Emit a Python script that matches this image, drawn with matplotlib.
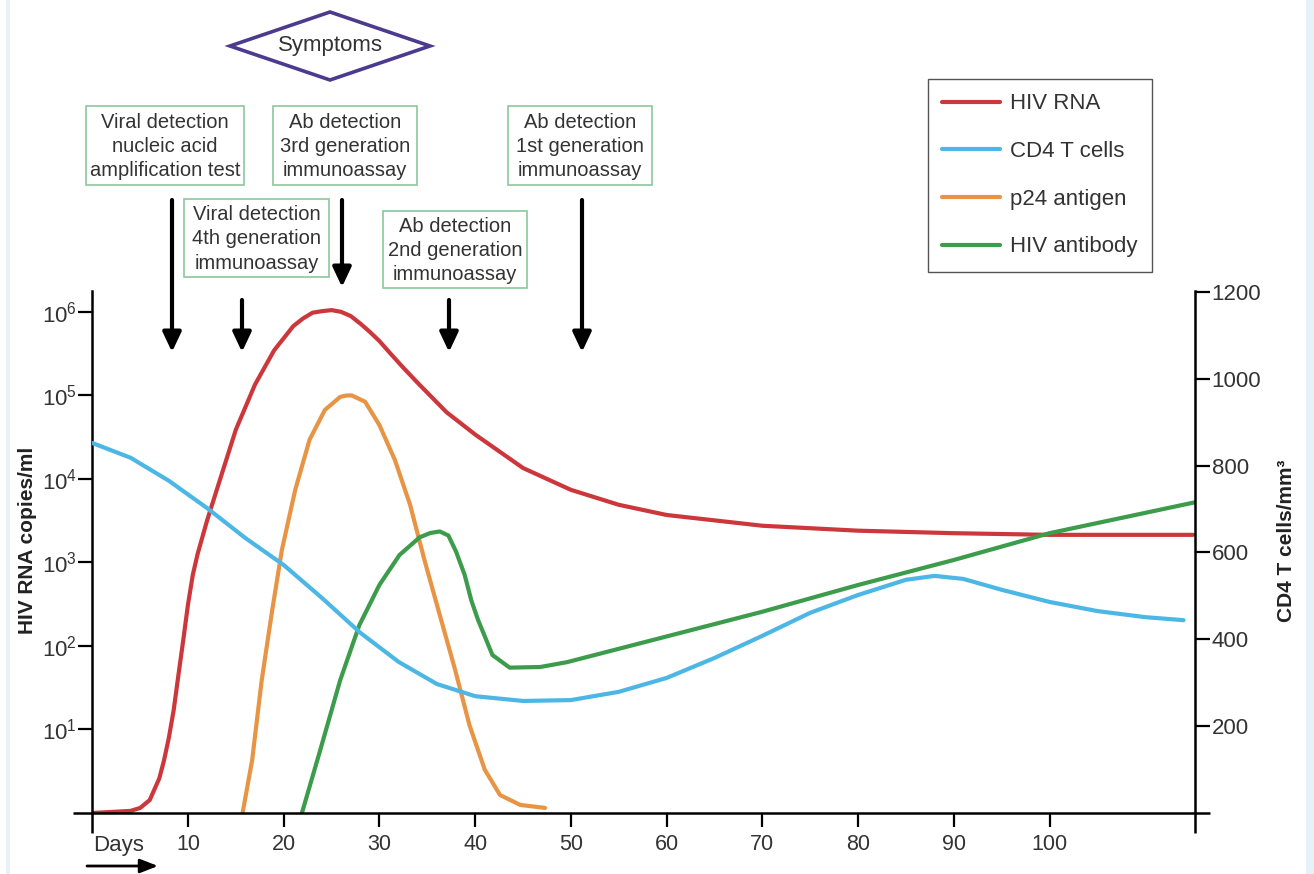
import matplotlib
matplotlib.use("Agg")
import matplotlib.pyplot as plt
from matplotlib.patches import Polygon, Rectangle
from matplotlib.ticker import FixedLocator, NullFormatter

plt.rcParams['font.family'] = ['Liberation Sans', 'DejaVu Sans']
plt.rcParams['mathtext.default'] = 'regular'

txt = '#333333'

# HIV RNA copies/ml (left log axis)
rna_days = [0, 4, 5, 6, 7, 7.5, 8, 8.5, 9, 9.5, 10, 10.5, 11, 12, 13.5, 15, 17, 19, 21,
            22, 23, 24, 25, 26, 27, 28, 29, 30, 31, 32.5, 34, 37, 40, 45, 50, 55, 60,
            70, 80, 90, 100, 115]
rna_copies = [1.0, 1.06, 1.15, 1.43, 2.6, 4.3, 8, 17, 45, 117, 316, 710, 1260, 3200,
              11200, 39000, 135000, 347000, 676000, 832000, 977000, 1020000, 1050000,
              1000000, 891000, 724000, 575000, 447000, 331000, 214000, 141000, 63000,
              34000, 13500, 7400, 4900, 3700, 2750, 2400, 2240, 2140, 2140]

# CD4 T cells/mm3 (right linear axis)
cd4_days = [0, 4, 8, 12, 16, 20, 24, 28, 32, 36, 40, 45, 50, 55, 60, 65, 70, 75, 80,
            85, 88, 91, 95, 100, 105, 110, 114]
cd4_cells = [852, 818, 765, 702, 633, 571, 495, 415, 348, 297, 269, 258, 260, 279, 311,
             357, 408, 461, 502, 537, 546, 539, 514, 486, 465, 451, 444]

# p24 antigen (relative level, left axis)
p24_days = [15.7, 16.7, 17.7, 18.8, 19.8, 21.2, 22.7, 24.3, 25.9, 26.5, 27.1, 28.5, 30.0,
            31.6, 33.2, 34.7, 36.3, 37.9, 39.4, 41.0, 42.6, 44.7, 47.3]
p24_level = [1.0, 4.3, 39, 270, 1400, 7400, 29500, 67000, 96000, 99500, 100000, 84000,
             44000, 17000, 4900, 1070, 235, 52, 11.3, 3.3, 1.64, 1.25, 1.15]

# HIV antibody (relative level, left axis)
ab_days = [21.9, 23.8, 25.9, 27.9, 30.0, 32.1, 34.2, 35.3, 36.3, 37.2, 38.0, 38.9,
           39.6, 40.3, 41.8, 43.6, 46.8, 49.6, 60, 70, 80, 90, 100, 115.2]
ab_level = [1.0, 5.6, 39, 178, 540, 1230, 2000, 2250, 2350, 2100, 1350, 710, 350, 205,
            78, 55, 56, 64, 130, 257, 537, 1070, 2240, 5250]

day_ticks = [10, 20, 30, 40, 50, 60, 70, 80, 90, 100]
rna_ticks = [1e1, 1e2, 1e3, 1e4, 1e5, 1e6]
cd4_ticks = [200, 400, 600, 800, 1000, 1200]

W, H = 1314, 874
fig = plt.figure(figsize=(W / 100, H / 100), dpi=100)
ax = fig.add_axes([92.3 / W, 1 - 813 / H, (1195 - 92.3) / W, (813 - 291) / H])
ax2 = ax.twinx()

l_rna, = ax.plot(rna_days, rna_copies, color='#cc373c', lw=3, solid_capstyle='round')
l_p24, = ax.plot(p24_days, p24_level, color='#e89445', lw=3, solid_capstyle='round')
l_ab, = ax.plot(ab_days, ab_level, color='#3d9c4c', lw=3, solid_capstyle='round')
l_cd4, = ax2.plot(cd4_days, cd4_cells, color='#4cb7e5', lw=3, solid_capstyle='round')

ax.set_yscale('log')
ax.set_xlim(0, 115.2)
ax.set_ylim(1, 10 ** 6.25)
ax2.set_ylim(0, 1202)

for s in ['top', 'right']:
    ax.spines[s].set_visible(False)
for s in ['top', 'left', 'bottom']:
    ax2.spines[s].set_visible(False)
for sp in [ax.spines['left'], ax.spines['bottom'], ax2.spines['right']]:
    sp.set_linewidth(1.8)

ax.set_xticks(day_ticks)
ax.xaxis.set_minor_locator(FixedLocator([0, 115.2]))
ax.xaxis.set_minor_formatter(NullFormatter())
ax.tick_params(axis='x', which='major', direction='out', length=10, width=1.6,
               labelsize=15.5, labelcolor=txt, pad=5)
ax.tick_params(axis='x', which='minor', direction='out', length=14.5, width=1.8)

ax.set_yticks(rna_ticks)
ax.yaxis.set_minor_locator(FixedLocator([1]))
ax.yaxis.set_minor_formatter(NullFormatter())
ax.tick_params(axis='y', which='major', direction='out', length=10, width=1.6,
               labelsize=16, labelcolor=txt, pad=1)
ax.tick_params(axis='y', which='minor', direction='out', length=14, width=1.8)

ax2.set_yticks(cd4_ticks)
ax2.yaxis.set_minor_locator(FixedLocator([0]))
ax2.yaxis.set_minor_formatter(NullFormatter())
ax2.tick_params(axis='y', which='major', direction='out', length=11, width=1.6,
                labelsize=16, labelcolor=txt, pad=1)
ax2.tick_params(axis='y', which='minor', direction='out', length=11, width=1.8)

fig.text(28 / W, 1 - 540 / H, 'HIV RNA copies/ml', rotation=90, fontsize=15,
         fontweight='bold', ha='center', va='center', color='#222222')
fig.text(1287 / W, 1 - 541 / H, 'CD4 T cells/mm³', rotation=90, fontsize=15,
         fontweight='bold', ha='center', va='center', color='#222222')
fig.text(93 / W, 1 - 846 / H, 'Days', fontsize=16, ha='left', va='center', color=txt)

leg = fig.legend([l_rna, l_cd4, l_p24, l_ab],
                 ['HIV RNA', 'CD4 T cells', 'p24 antigen', 'HIV antibody'],
                 loc='upper left', bbox_to_anchor=(928 / W, 1 - 79 / H),
                 borderaxespad=0, fontsize=16, fancybox=False, framealpha=1,
                 edgecolor='#555555', handlelength=2.6, handletextpad=0.45,
                 labelspacing=1.2, borderpad=0.65)
leg.get_frame().set_linewidth(1.0)
for t in leg.get_texts():
    t.set_color(txt)

# annotation layer in pixel coordinates
ov = fig.add_axes([0, 0, 1, 1])
ov.set_xlim(0, W)
ov.set_ylim(H, 0)
ov.axis('off')

ov.add_patch(Rectangle((6, 0), 4, H, color='#e6f1f8', lw=0))
ov.add_patch(Rectangle((1306, 0), 8, H, color='#e6f1f8', lw=0))

ov.add_patch(Polygon([(230, 46), (330, 12), (430, 46), (330, 80)], closed=True,
                     fill=False, ec='#4b3b8f', lw=2.6, joinstyle='miter'))
ov.text(330, 46, 'Symptoms', fontsize=16, ha='center', va='center', color=txt)

boxes = [
    (86, 106, 158, 79, 'Viral detection\nnucleic acid\namplification test'),
    (273, 106, 144, 79, 'Ab detection\n3rd generation\nimmunoassay'),
    (508, 106, 144, 79, 'Ab detection\n1st generation\nimmunoassay'),
    (184, 199, 145, 78, 'Viral detection\n4th generation\nimmunoassay'),
    (383, 211, 144, 77, 'Ab detection\n2nd generation\nimmunoassay'),
]
for x0, y0, w, h, label in boxes:
    ov.add_patch(Rectangle((x0, y0), w, h, fill=False, ec='#8cc79c', lw=1.2))
    ov.text(x0 + w / 2, y0 + h / 2 + 1, label, fontsize=14.5, ha='center', va='center',
            linespacing=1.35, color=txt)

arrows = [(172, 200, 352), (242, 300, 352), (342, 200, 287), (449, 300, 352), (582, 200, 352)]
for x, ys, ye in arrows:
    ov.annotate('', xy=(x, ye), xytext=(x, ys),
                arrowprops=dict(arrowstyle='-|>,head_width=0.4,head_length=0.85',
                                lw=3, color='black', mutation_scale=14,
                                shrinkA=0, shrinkB=0))

ov.annotate('', xy=(158, 866), xytext=(87, 866),
            arrowprops=dict(arrowstyle='-|>,head_width=0.35,head_length=0.9',
                            lw=2, color='black', mutation_scale=12,
                            shrinkA=0, shrinkB=0))

fig.savefig('out.png', dpi=100, facecolor='white')
